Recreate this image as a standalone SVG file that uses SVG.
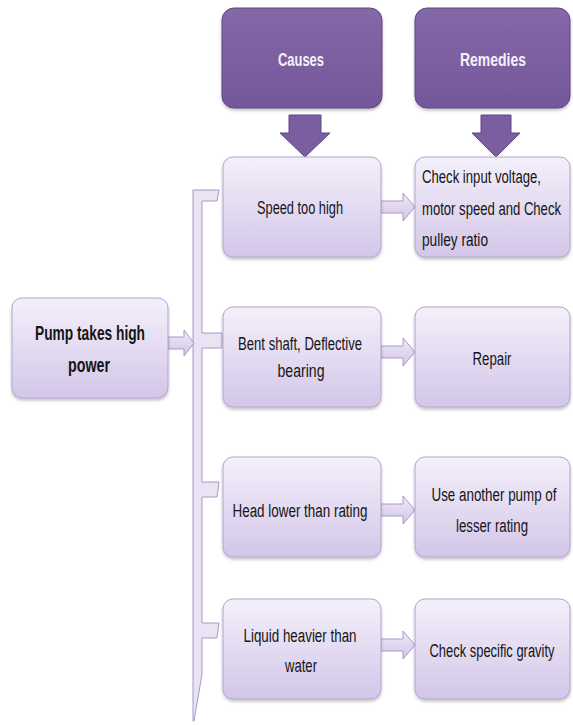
<svg xmlns="http://www.w3.org/2000/svg" width="573" height="725" viewBox="0 0 573 725">
<defs>
<linearGradient id="gLight" x1="0" y1="0" x2="0" y2="1">
<stop offset="0" stop-color="#F4F0FA"/>
<stop offset="1" stop-color="#D3C6E9"/>
</linearGradient>
<linearGradient id="gDark" x1="0" y1="0" x2="0" y2="1">
<stop offset="0" stop-color="#8468A8"/>
<stop offset="1" stop-color="#73579A"/>
</linearGradient>
<linearGradient id="gArrow" x1="0" y1="0" x2="0" y2="1">
<stop offset="0" stop-color="#EFEAF7"/>
<stop offset="1" stop-color="#D2C5E8"/>
</linearGradient>
<filter id="sh" x="-10%" y="-10%" width="120%" height="130%">
<feDropShadow dx="0" dy="2" stdDeviation="1.5" flood-color="#000" flood-opacity="0.25"/>
</filter>
</defs>
<style>
.box{fill:url(#gLight);stroke:#B4A4D0;stroke-width:1;filter:url(#sh)}
.hdr{fill:url(#gDark);stroke:#5E4882;stroke-width:1;filter:url(#sh)}
.darr{fill:#7B5E9F;stroke:#5E4882;stroke-width:1}
.harr{fill:url(#gArrow);stroke:#A898C8;stroke-width:1}
.br{fill:#E9E3F3;stroke:#A898C8;stroke-width:1}
.t{font-family:"Liberation Sans",Arial,sans-serif;font-size:14px;fill:#151515;text-anchor:middle}
.tl{text-anchor:start}
.b{font-weight:bold;font-size:15.5px}
.h{font-family:"Liberation Sans",Arial,sans-serif;font-size:14px;font-weight:bold;fill:#F4F2F8;text-anchor:middle}
</style>
<rect width="573" height="725" fill="#FFFFFF"/>

<g id="connectors">
<path class="br" d="M193,190 L219,190 L217,201 L202,201 L202,333 L222,333 L222,348 L202,348 L202,482 L219,482 L217,497 L202,497 L202,623 L219,623 L217,638 L202,638 L202,674 L194,721 L193,721 Z"/>
<path class="harr" d="M168,337 L184,337 L184,330 L194,343 L184,356 L184,349 L168,349 Z"/>
<path class="darr" d="M289,115 L321,115 L321,133 L330,133 L305,157 L280,133 L289,133 Z"/>
<path class="darr" d="M481,115 L511,115 L511,133 L520,133 L496,157 L472,133 L481,133 Z"/>
<path class="harr" d="M381,201 L403,201 L403,193 L415,207 L403,221 L403,213 L381,213 Z"/>
<path class="harr" d="M381,346 L403,346 L403,338 L415,352 L403,366 L403,358 L381,358 Z"/>
<path class="harr" d="M381,504 L403,504 L403,496 L415,510 L403,524 L403,516 L381,516 Z"/>
<path class="harr" d="M381,639 L403,639 L403,631 L415,645 L403,659 L403,651 L381,651 Z"/>
</g>

<g id="causes">
<rect class="hdr" x="222" y="8" width="160" height="100" rx="12"/>
<text class="h" transform="translate(301,66) scale(1,1.29)" textLength="46" lengthAdjust="spacingAndGlyphs">Causes</text>
</g>
<g id="remedies">
<rect class="hdr" x="415" y="8" width="155" height="100" rx="12"/>
<text class="h" transform="translate(493,66) scale(1,1.29)" textLength="66" lengthAdjust="spacingAndGlyphs">Remedies</text>
</g>

<g id="pump">
<rect class="box" x="12" y="298" width="156" height="100" rx="10"/>
<text class="t b" transform="translate(90,340) scale(1,1.29)" textLength="110" lengthAdjust="spacingAndGlyphs">Pump takes high</text>
<text class="t b" transform="translate(89,372) scale(1,1.29)" textLength="42" lengthAdjust="spacingAndGlyphs">power</text>
</g>

<g id="cause1">
<rect class="box" x="223" y="157" width="158" height="100" rx="10"/>
<text class="t" transform="translate(300,214) scale(1,1.29)" textLength="86" lengthAdjust="spacingAndGlyphs">Speed too high</text>
</g>
<g id="remedy1">
<rect class="box" x="415" y="157" width="155" height="100" rx="10"/>
<text class="t tl" transform="translate(422,183) scale(1,1.29)" textLength="119" lengthAdjust="spacingAndGlyphs">Check input voltage,</text>
<text class="t tl" transform="translate(422,215) scale(1,1.29)" textLength="139" lengthAdjust="spacingAndGlyphs">motor speed and Check</text>
<text class="t tl" transform="translate(422,246) scale(1,1.29)" textLength="66" lengthAdjust="spacingAndGlyphs">pulley ratio</text>
</g>

<g id="cause2">
<rect class="box" x="223" y="307" width="158" height="100" rx="10"/>
<text class="t" transform="translate(300,350) scale(1,1.29)" textLength="124" lengthAdjust="spacingAndGlyphs">Bent shaft, Deflective</text>
<text class="t" transform="translate(301,377) scale(1,1.29)" textLength="47" lengthAdjust="spacingAndGlyphs">bearing</text>
</g>
<g id="remedy2">
<rect class="box" x="415" y="307" width="155" height="100" rx="10"/>
<text class="t" transform="translate(492,365) scale(1,1.29)" textLength="39" lengthAdjust="spacingAndGlyphs">Repair</text>
</g>

<g id="cause3">
<rect class="box" x="223" y="457" width="158" height="100" rx="10"/>
<text class="t" transform="translate(300,517) scale(1,1.29)" textLength="135" lengthAdjust="spacingAndGlyphs">Head lower than rating</text>
</g>
<g id="remedy3">
<rect class="box" x="415" y="457" width="155" height="100" rx="10"/>
<text class="t" transform="translate(494,501) scale(1,1.29)" textLength="125" lengthAdjust="spacingAndGlyphs">Use another pump of</text>
<text class="t" transform="translate(492,532) scale(1,1.29)" textLength="72" lengthAdjust="spacingAndGlyphs">lesser rating</text>
</g>

<g id="cause4">
<rect class="box" x="223" y="599" width="158" height="100" rx="10"/>
<text class="t" transform="translate(300,642) scale(1,1.29)" textLength="113" lengthAdjust="spacingAndGlyphs">Liquid heavier than</text>
<text class="t" transform="translate(301,672) scale(1,1.29)" textLength="32" lengthAdjust="spacingAndGlyphs">water</text>
</g>
<g id="remedy4">
<rect class="box" x="415" y="599" width="155" height="100" rx="10"/>
<text class="t" transform="translate(492,657) scale(1,1.29)" textLength="125" lengthAdjust="spacingAndGlyphs">Check specific gravity</text>
</g>
</svg>
